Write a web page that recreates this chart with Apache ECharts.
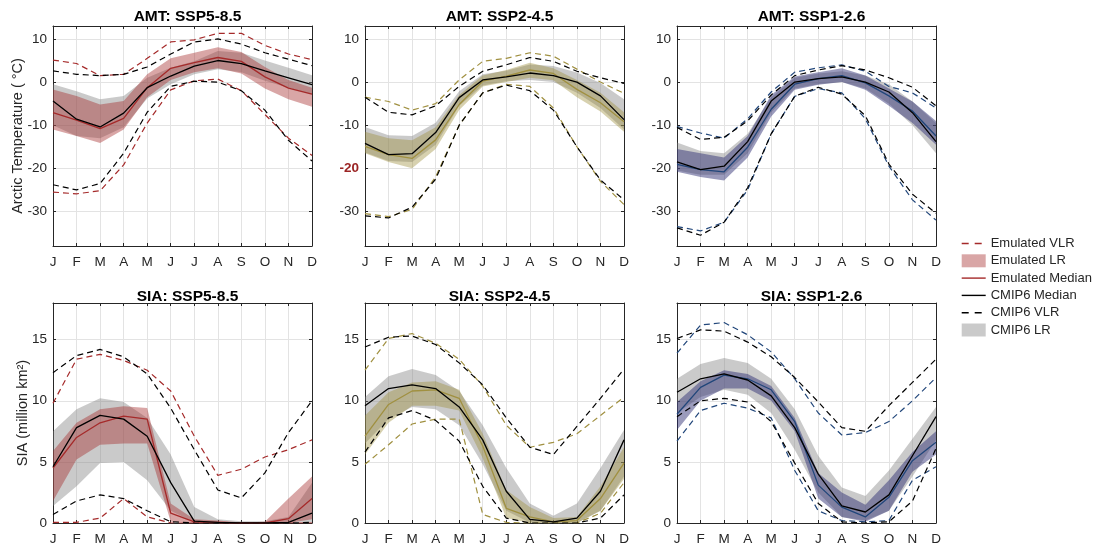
<!DOCTYPE html>
<html>
<head>
<meta charset="utf-8">
<script src="https://cdn.jsdelivr.net/npm/echarts@6/dist/echarts.min.js"></script>
<style>
  html, body { margin: 0; padding: 0; background: #fff; }
  #chart { width: 1096px; height: 545px; }
</style>
</head>
<body>
<div id="chart"></div>
<script>
// Month labels and tick values
const months = ['J', 'F', 'M', 'A', 'M', 'J', 'J', 'A', 'S', 'O', 'N', 'D'];
const amtTicks = [-30, -20, -10, 0, 10];
const siaTicks = [0, 5, 10, 15];

// ---- Arctic mean temperature (°C), SSP5-8.5 ----
const amt585CmipMed   = [-4.4, -8.6, -10.4, -7.2, -1.3, 1.4, 3.7, 5.0, 4.3, 2.6, 1.0, -0.6];
const amt585CmipLo    = [-10.0, -12.5, -13.0, -10.5, -3.8, -0.5, 1.8, 3.0, 2.3, 0.3, -1.3, -2.8];
const amt585CmipHi    = [-0.5, -2.1, -4.0, -3.2, 1.0, 3.3, 4.8, 7.2, 6.8, 5.0, 3.3, 1.6];
const amt585CmipVlrLo = [-23.8, -25.0, -23.5, -16.5, -7.0, -1.0, 0.2, 0.0, -2.0, -6.5, -13.5, -18.3];
const amt585CmipVlrHi = [2.6, 1.8, 1.5, 1.8, 3.5, 6.5, 9.3, 10.0, 8.8, 6.8, 5.3, 3.8];
const amt585EmuMed    = [-7.1, -8.8, -10.8, -8.4, -1.3, 3.2, 4.5, 5.7, 4.8, 1.2, -1.4, -2.8];
const amt585EmuLo     = [-11.0, -12.5, -14.1, -11.0, -3.5, 0.5, 2.3, 3.2, 2.0, -1.5, -4.0, -5.7];
const amt585EmuHi     = [-1.7, -3.2, -5.2, -4.4, 1.8, 5.5, 6.8, 8.1, 7.0, 3.5, 0.5, -1.3];
const amt585EmuVlrLo  = [-25.5, -25.9, -25.2, -19.2, -9.5, -1.8, 0.3, 0.7, -2.0, -7.5, -13.0, -17.0];
const amt585EmuVlrHi  = [5.1, 4.3, 1.5, 1.8, 5.5, 9.3, 9.8, 11.3, 11.3, 8.5, 6.5, 5.2];

// ---- Arctic mean temperature (°C), SSP2-4.5 ----
const amt245CmipMed   = [-14.2, -16.8, -16.6, -11.7, -3.6, 0.5, 1.2, 2.1, 1.5, 0.0, -3.2, -8.7];
const amt245CmipLo    = [-16.3, -18.3, -18.5, -14.5, -5.5, -0.8, 0.2, 0.5, 0.0, -2.5, -6.0, -11.0];
const amt245CmipHi    = [-10.4, -12.3, -12.5, -9.4, -2.1, 1.8, 2.6, 4.1, 3.7, 2.2, -0.2, -4.0];
const amt245CmipVlrLo = [-31.0, -31.5, -29.0, -22.5, -10.0, -2.5, -0.7, -2.0, -6.5, -15.0, -22.7, -27.3];
const amt245CmipVlrHi = [-3.5, -7.0, -7.6, -5.5, -1.0, 2.5, 4.0, 5.7, 4.8, 2.5, 1.0, -0.3];
const amt245EmuMed    = [-14.9, -16.8, -17.7, -13.4, -5.2, 0.2, 1.4, 2.8, 2.0, -1.7, -4.8, -9.2];
const amt245EmuLo     = [-16.5, -18.5, -20.0, -15.5, -6.5, -1.0, 0.0, 1.0, 0.4, -3.5, -6.8, -11.5];
const amt245EmuHi     = [-11.5, -13.0, -13.5, -10.5, -3.0, 1.5, 2.8, 4.5, 3.2, 0.5, -2.5, -7.0];
const amt245EmuVlrLo  = [-30.5, -31.2, -29.5, -22.0, -10.0, -2.5, -0.5, -1.0, -6.0, -15.0, -23.0, -28.4];
const amt245EmuVlrHi  = [-3.5, -4.5, -6.5, -5.0, 0.5, 4.8, 5.5, 6.8, 6.0, 3.0, 0.0, -2.6];

// ---- Arctic mean temperature (°C), SSP1-2.6 ----
const amt126CmipMed   = [-18.5, -20.3, -19.5, -13.8, -4.4, 0.0, 0.8, 1.2, 0.0, -2.3, -7.1, -13.8];
const amt126CmipLo    = [-20.5, -21.5, -21.5, -16.5, -7.0, -1.5, -0.5, 0.0, -1.5, -5.0, -10.0, -16.5];
const amt126CmipHi    = [-14.0, -16.0, -16.5, -12.0, -3.5, 1.0, 2.0, 2.5, 1.5, -0.5, -4.5, -9.5];
const amt126CmipVlrLo = [-33.8, -35.5, -32.5, -24.5, -12.0, -3.3, -1.2, -2.8, -7.8, -19.0, -26.0, -30.4];
const amt126CmipVlrHi = [-10.5, -13.3, -12.8, -9.0, -3.0, 1.5, 2.8, 3.8, 2.8, 1.0, -1.2, -5.5];
const amt126EmuMed    = [-19.1, -20.3, -20.8, -15.1, -6.3, -0.5, 0.8, 1.5, -0.2, -3.2, -6.7, -12.5];
const amt126EmuLo     = [-20.8, -22.0, -22.8, -17.5, -8.0, -1.8, -0.6, 0.0, -1.8, -5.5, -9.5, -14.5];
const amt126EmuHi     = [-15.5, -16.5, -17.5, -12.5, -3.0, 1.3, 2.3, 3.2, 1.5, -1.5, -4.5, -9.0];
const amt126EmuVlrLo  = [-33.5, -34.5, -32.5, -25.0, -12.0, -3.3, -1.5, -2.5, -8.5, -19.5, -27.3, -32.0];
const amt126EmuVlrHi  = [-10.3, -11.8, -13.0, -8.5, -2.3, 2.3, 3.3, 4.0, 2.5, -1.0, -2.5, -6.0];

// ---- Sea ice area (million km²), SSP5-8.5 ----
const sia585CmipMed   = [4.6, 7.8, 8.8, 8.5, 7.1, 3.3, 0.15, 0.05, 0.0, 0.0, 0.05, 0.8];
const sia585CmipLo    = [1.4, 3.0, 4.9, 5.0, 3.5, 1.0, 0.05, 0.0, 0.0, 0.0, 0.0, 0.05];
const sia585CmipHi    = [7.5, 9.3, 10.2, 9.9, 8.6, 5.6, 1.3, 0.3, 0.15, 0.15, 0.5, 3.3];
const sia585CmipVlrLo = [0.7, 1.8, 2.3, 2.0, 1.0, 0.1, 0.0, 0.0, 0.0, 0.0, 0.0, 0.05];
const sia585CmipVlrHi = [12.3, 13.7, 14.2, 13.6, 12.2, 9.4, 6.0, 2.7, 2.05, 4.1, 7.4, 10.0];
const sia585EmuMed    = [4.5, 7.0, 8.2, 8.75, 8.5, 0.8, 0.1, 0.05, 0.0, 0.0, 0.35, 2.0];
const sia585EmuLo     = [1.8, 5.2, 6.4, 6.5, 6.5, 0.1, 0.0, 0.0, 0.0, 0.0, 0.0, 0.3];
const sia585EmuHi     = [5.9, 8.2, 9.3, 9.55, 9.4, 1.6, 0.3, 0.2, 0.05, 0.1, 2.0, 3.8];
const sia585EmuVlrLo  = [0.05, 0.05, 0.4, 2.0, 0.5, 0.0, 0.0, 0.0, 0.0, 0.0, 0.0, 0.0];
const sia585EmuVlrHi  = [9.8, 13.4, 13.8, 13.3, 12.5, 10.8, 7.1, 3.9, 4.4, 5.4, 6.0, 6.8];

// ---- Sea ice area (million km²), SSP2-4.5 ----
const sia245CmipMed   = [9.6, 11.0, 11.3, 11.0, 9.5, 6.8, 2.6, 0.3, 0.1, 0.4, 2.6, 6.8];
const sia245CmipLo    = [6.5, 8.5, 9.5, 9.3, 8.0, 4.8, 1.0, 0.05, 0.0, 0.0, 1.0, 3.8];
const sia245CmipHi    = [10.3, 12.0, 12.6, 12.1, 10.8, 8.0, 4.5, 1.6, 0.6, 1.6, 4.5, 7.6];
const sia245CmipVlrLo = [5.8, 8.6, 9.2, 8.4, 6.7, 3.0, 0.4, 0.0, 0.0, 0.0, 0.4, 2.3];
const sia245CmipVlrHi = [14.4, 15.2, 15.3, 14.6, 13.1, 11.3, 8.6, 6.2, 5.6, 7.9, 10.2, 12.6];
const sia245EmuMed    = [7.1, 9.7, 10.8, 10.9, 10.2, 6.3, 1.2, 0.5, 0.1, 0.2, 2.0, 4.9];
const sia245EmuLo     = [5.6, 8.2, 9.6, 9.6, 9.2, 5.3, 0.4, 0.0, 0.0, 0.0, 1.0, 3.6];
const sia245EmuHi     = [8.8, 10.7, 11.5, 11.6, 10.9, 7.3, 2.7, 1.3, 0.4, 0.5, 3.0, 6.2];
const sia245EmuVlrLo  = [4.8, 6.4, 8.1, 8.5, 8.5, 0.7, 0.05, 0.0, 0.0, 0.0, 0.8, 3.3];
const sia245EmuVlrHi  = [12.5, 15.1, 15.5, 14.7, 13.4, 11.2, 8.0, 6.2, 6.6, 7.3, 8.8, 10.3];

// ---- Sea ice area (million km²), SSP1-2.6 ----
const sia126CmipMed   = [10.7, 11.8, 12.2, 11.7, 10.4, 7.8, 4.0, 1.4, 0.9, 2.3, 5.5, 8.7];
const sia126CmipLo    = [9.0, 10.3, 10.9, 10.5, 9.0, 6.0, 2.5, 0.5, 0.2, 1.0, 3.8, 6.8];
const sia126CmipHi    = [11.8, 13.0, 13.5, 13.1, 11.8, 9.3, 5.5, 2.9, 2.2, 4.3, 6.9, 9.5];
const sia126CmipVlrLo = [8.7, 10.0, 10.2, 9.9, 8.3, 4.9, 1.6, 0.1, 0.0, 0.1, 1.8, 6.1];
const sia126CmipVlrHi = [15.1, 15.8, 15.7, 14.8, 13.6, 11.9, 9.9, 7.8, 7.5, 9.6, 11.5, 13.4];
const sia126EmuMed    = [8.9, 11.1, 12.1, 11.8, 10.9, 8.3, 3.1, 1.3, 0.5, 2.1, 5.1, 6.6];
const sia126EmuLo     = [7.6, 10.0, 11.0, 11.0, 10.0, 7.5, 2.0, 0.5, 0.1, 1.0, 4.2, 5.6];
const sia126EmuHi     = [9.9, 11.6, 12.5, 12.2, 11.2, 8.6, 4.1, 2.5, 1.5, 3.5, 5.8, 7.5];
const sia126EmuVlrLo  = [6.7, 9.2, 9.8, 9.4, 8.6, 4.3, 1.0, 0.2, 0.1, 0.2, 3.5, 4.6];
const sia126EmuVlrHi  = [13.9, 16.2, 16.4, 15.4, 14.0, 11.8, 9.0, 7.2, 7.4, 8.3, 10.0, 11.9];

// Scenario colours: line colour and shaded-band colour
const red   = { line: '#a52a2a', band: 'rgba(165,42,42,0.42)' };
const olive = { line: '#a09040', band: 'rgba(155,140,55,0.40)' };
const navy  = { line: '#21467a', band: 'rgba(45,45,115,0.48)' };
const cmipBand = 'rgba(128,128,128,0.42)';

const FONT = '"Liberation Sans", Arial, Helvetica, sans-serif';
const TXT = '#262626';
const DASH = [6, 4];

// Panel layout (plot-area boxes in px)
const colLeft = [53, 365, 677];
const rowTop = [26, 303];
const titleTop = [4, 284];
const plotW = 259, plotH = 220;

const panels = [
  { title: 'AMT: SSP5-8.5', row: 0, col: 0, kind: 'amt', c: red,
    d: [amt585CmipMed, amt585CmipLo, amt585CmipHi, amt585CmipVlrLo, amt585CmipVlrHi,
        amt585EmuMed, amt585EmuLo, amt585EmuHi, amt585EmuVlrLo, amt585EmuVlrHi] },
  { title: 'AMT: SSP2-4.5', row: 0, col: 1, kind: 'amt', c: olive, mark: -20,
    d: [amt245CmipMed, amt245CmipLo, amt245CmipHi, amt245CmipVlrLo, amt245CmipVlrHi,
        amt245EmuMed, amt245EmuLo, amt245EmuHi, amt245EmuVlrLo, amt245EmuVlrHi] },
  { title: 'AMT: SSP1-2.6', row: 0, col: 2, kind: 'amt', c: navy,
    d: [amt126CmipMed, amt126CmipLo, amt126CmipHi, amt126CmipVlrLo, amt126CmipVlrHi,
        amt126EmuMed, amt126EmuLo, amt126EmuHi, amt126EmuVlrLo, amt126EmuVlrHi] },
  { title: 'SIA: SSP5-8.5', row: 1, col: 0, kind: 'sia', c: red,
    d: [sia585CmipMed, sia585CmipLo, sia585CmipHi, sia585CmipVlrLo, sia585CmipVlrHi,
        sia585EmuMed, sia585EmuLo, sia585EmuHi, sia585EmuVlrLo, sia585EmuVlrHi] },
  { title: 'SIA: SSP2-4.5', row: 1, col: 1, kind: 'sia', c: olive,
    d: [sia245CmipMed, sia245CmipLo, sia245CmipHi, sia245CmipVlrLo, sia245CmipVlrHi,
        sia245EmuMed, sia245EmuLo, sia245EmuHi, sia245EmuVlrLo, sia245EmuVlrHi] },
  { title: 'SIA: SSP1-2.6', row: 1, col: 2, kind: 'sia', c: navy,
    d: [sia126CmipMed, sia126CmipLo, sia126CmipHi, sia126CmipVlrLo, sia126CmipVlrHi,
        sia126EmuMed, sia126EmuLo, sia126EmuHi, sia126EmuVlrLo, sia126EmuVlrHi] }
];

const grids = [], xAxes = [], yAxes = [], titles = [], series = [];
const frame = { show: true, onZero: false, lineStyle: { color: TXT, width: 1 } };
const innerTick = (vals) => ({ show: true, inside: true, length: 3, lineStyle: { color: TXT }, customValues: vals });

panels.forEach((p, i) => {
  const left = colLeft[p.col], top = rowTop[p.row];
  grids.push({ left, top, width: plotW, height: plotH, outerBoundsMode: 'none', containLabel: false });
  titles.push({
    text: p.title, left: left + plotW / 2, top: titleTop[p.row], textAlign: 'center',
    textStyle: { fontFamily: FONT, fontSize: 15.5, fontWeight: 'bold', color: '#000' }
  });

  const isAmt = p.kind === 'amt';
  const ticks = isAmt ? amtTicks : siaTicks;

  xAxes.push({
    type: 'category', gridIndex: i, data: months, boundaryGap: false, position: 'bottom',
    axisLine: frame,
    axisTick: { show: true, inside: true, length: 3, lineStyle: { color: TXT } },
    axisLabel: { fontFamily: FONT, fontSize: 13.5, color: TXT, margin: 9, interval: 0 },
    splitLine: { show: true, lineStyle: { color: '#e3e3e3', width: 1 } }
  });
  xAxes.push({
    type: 'category', gridIndex: i, data: months, boundaryGap: false, position: 'top',
    axisLine: frame,
    axisTick: { show: true, inside: true, length: 3, lineStyle: { color: TXT } },
    axisLabel: { show: false }, splitLine: { show: false }
  });

  const yBase = {
    type: 'value', gridIndex: i,
    min: isAmt ? -38 : 0, max: isAmt ? 13 : 18,
    axisLine: frame
  };
  yAxes.push(Object.assign({}, yBase, {
    position: 'left',
    axisTick: innerTick(ticks),
    axisLabel: {
      customValues: ticks, fontFamily: FONT, fontSize: 13.5, color: TXT, margin: 6,
      formatter: (v) => (p.mark !== undefined && v === p.mark) ? '{hl|' + v + '}' : String(v),
      rich: { hl: { fontFamily: FONT, fontSize: 13.5, fontWeight: 'bold', color: '#9b2424' } }
    },
    splitLine: { show: true, lineStyle: { color: '#e3e3e3', width: 1 } },
    name: p.col === 0 ? (isAmt ? 'Arctic Temperature ( °C)' : 'SIA (million km²)') : '',
    nameLocation: 'middle', nameGap: isAmt ? 28 : 23, nameRotate: 90, nameMoveOverlap: false,
    nameTextStyle: { fontFamily: FONT, fontSize: 14.5, color: TXT }
  }));
  yAxes.push(Object.assign({}, yBase, {
    position: 'right',
    axisTick: innerTick(ticks),
    axisLabel: { show: false }, splitLine: { show: false }
  }));

  const [cMed, cLo, cHi, cVLo, cVHi, eMed, eLo, eHi, eVLo, eVHi] = p.d;
  const ax = { xAxisIndex: 2 * i, yAxisIndex: 2 * i };
  const common = Object.assign({ type: 'line', symbol: 'none', showSymbol: false, silent: true,
                                 animation: false }, ax);

  // shaded likely ranges: invisible lower edge + stacked width
  const band = (name, lo, hi, color, key) => {
    series.push(Object.assign({}, common, {
      name: name + ' lower', data: lo, stack: key + i, stackStrategy: 'all',
      lineStyle: { opacity: 0 }, z: 1
    }));
    series.push(Object.assign({}, common, {
      name, data: hi.map((v, k) => +(v - lo[k]).toFixed(3)), stack: key + i, stackStrategy: 'all',
      lineStyle: { opacity: 0 }, areaStyle: { color, opacity: 1 }, itemStyle: { color }, z: 1
    }));
  };
  band('CMIP6 LR', cLo, cHi, cmipBand, 'c');
  band('Emulated LR', eLo, eHi, p.c.band, 'e');

  const vlr = (name, data, color) => series.push(Object.assign({}, common, {
    name, data, lineStyle: { color, width: 1.2, type: DASH }, itemStyle: { color }, z: 2
  }));
  vlr('Emulated VLR', eVHi, p.c.line);
  vlr('Emulated VLR', eVLo, p.c.line);
  vlr('CMIP6 VLR', cVHi, '#000');
  vlr('CMIP6 VLR', cVLo, '#000');

  series.push(Object.assign({}, common, {
    name: 'Emulated Median', data: eMed, lineStyle: { color: p.c.line, width: 1.3 },
    itemStyle: { color: p.c.line }, z: 3
  }));
  series.push(Object.assign({}, common, {
    name: 'CMIP6 Median', data: cMed, lineStyle: { color: '#000', width: 1.3 },
    itemStyle: { color: '#000' }, z: 3
  }));
});

// legend line entries: keep the line, hide the marker dot
const noDot = { color: 'rgba(0,0,0,0)', borderWidth: 0 };
const legendDash = [7, 6];

const chart = echarts.init(document.getElementById('chart'), null, { renderer: 'canvas' });
chart.setOption({
  animation: false,
  backgroundColor: '#fff',
  title: titles,
  grid: grids,
  xAxis: xAxes,
  yAxis: yAxes,
  legend: {
    orient: 'vertical', left: 956, top: 232,
    itemWidth: 24, itemHeight: 13, itemGap: 4.3,
    selectedMode: false,
    textStyle: { fontFamily: FONT, fontSize: 13, color: TXT },
    data: [
      { name: 'Emulated VLR', itemStyle: noDot, lineStyle: { color: red.line, width: 1.4, type: legendDash } },
      { name: 'Emulated LR', icon: 'rect', itemStyle: { color: red.band } },
      { name: 'Emulated Median', itemStyle: noDot, lineStyle: { color: red.line, width: 1.4 } },
      { name: 'CMIP6 Median', itemStyle: noDot, lineStyle: { color: '#000', width: 1.4 } },
      { name: 'CMIP6 VLR', itemStyle: noDot, lineStyle: { color: '#000', width: 1.4, type: legendDash } },
      { name: 'CMIP6 LR', icon: 'rect', itemStyle: { color: cmipBand } }
    ]
  },
  series
});
</script>
</body>
</html>
